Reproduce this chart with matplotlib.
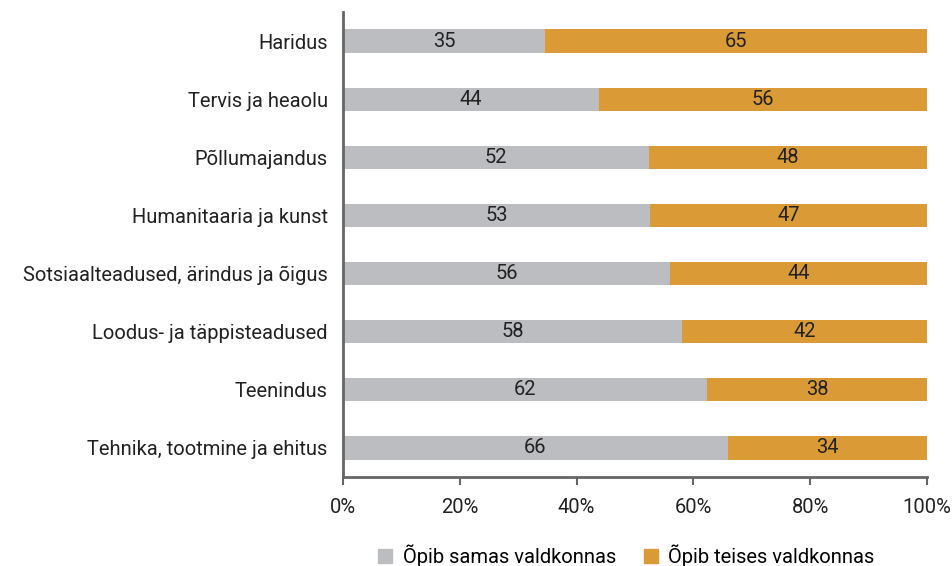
import numpy as np
import matplotlib.pyplot as plt
from matplotlib.patches import Patch

categories = ['Haridus', 'Tervis ja heaolu', 'Põllumajandus', 'Humanitaaria ja kunst',
              'Sotsiaalteadused, ärindus ja õigus', 'Loodus- ja täppisteadused',
              'Teenindus', 'Tehnika, tootmine ja ehitus']
same_field = [34.6, 43.8, 52.4, 52.6, 56.0, 58.0, 62.3, 65.9]
other_field = [65.4, 56.2, 47.6, 47.4, 44.0, 42.0, 37.7, 34.1]
series_names = ['Õpib samas valdkonnas', 'Õpib teises valdkonnas']
colors = ['#BCBDC0', '#DA9B37']

plt.rcParams['font.family'] = ['Roboto', 'DejaVu Sans']
fs = 14.5

fig = plt.figure(figsize=(9.52, 5.66), dpi=100)
ax = fig.add_axes([0.3603, 0.1572, 0.6134, 0.8216])

y = np.arange(len(categories))
same = np.array(same_field)
other = np.array(other_field)
ax.barh(y, same, height=0.4, color=colors[0])
ax.barh(y, other, left=same, height=0.4, color=colors[1])

for i in range(len(categories)):
    ax.text(same[i] / 2, y[i], '%d' % round(same[i]), ha='center', va='center',
            fontsize=fs, color='#222222')
    ax.text(same[i] + other[i] / 2, y[i], '%d' % round(other[i]), ha='center', va='center',
            fontsize=fs, color='#222222')

ax.set_xlim(0, 100)
ax.set_ylim(len(categories) - 0.5, -0.5)
ax.set_yticks(y)
ax.set_yticklabels(categories, fontsize=fs, color='#222222')
ax.tick_params(axis='y', length=0, pad=11)
ax.set_xticks(np.arange(0, 101, 20))
ax.set_xticklabels(['%d%%' % v for v in range(0, 101, 20)], fontsize=fs, color='#222222')
ax.tick_params(axis='x', length=6, width=1.5, color='#666666', pad=9)

for s in ['top', 'right']:
    ax.spines[s].set_visible(False)
for s in ['left', 'bottom']:
    ax.spines[s].set_color('#666666')
    ax.spines[s].set_linewidth(2)

handles = [Patch(color=c) for c in colors]
fig.legend(handles, series_names, loc='center', bbox_to_anchor=(0.658, 0.018),
           ncol=2, frameon=False, fontsize=fs, handlelength=0.7, handleheight=0.7,
           handletextpad=0.5, columnspacing=1.4)

fig.savefig('out.png', dpi=100)
